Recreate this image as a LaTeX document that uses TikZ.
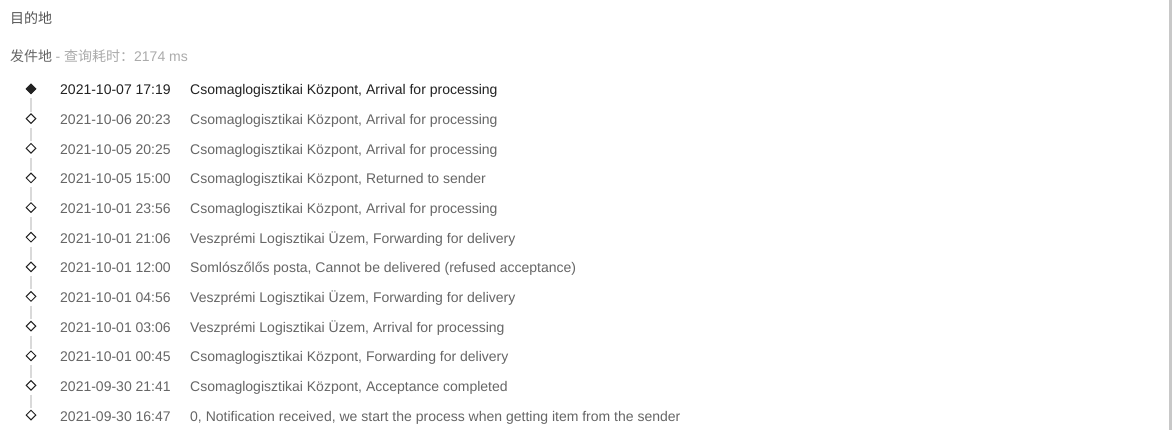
\documentclass[tikz,border=0pt]{standalone}
\usepackage{fontspec}
\setmainfont{Liberation Sans}
\newfontfamily\cjk{Noto Sans CJK SC}
\usetikzlibrary{shapes.geometric,positioning}
\definecolor{headgray}{HTML}{555555}
\definecolor{rowgray}{HTML}{666666}
\definecolor{rowdark}{HTML}{222222}
\definecolor{hintgray}{HTML}{ABABAB}
\definecolor{linkgray}{HTML}{D9D9D9}
\definecolor{bargray}{HTML}{C8C8C8}
\tikzset{
  every node/.style={font=\fontsize{14}{17}\selectfont, inner sep=0pt},
  marker/.style={diamond, draw=rowdark, line width=1pt, fill=white, minimum size=10pt, inner sep=0pt},
  current/.style={marker, fill=rowdark},
  link/.style={draw=linkgray, line width=2.5pt, shorten <=4pt, shorten >=1.5pt},
  stamp/.style={anchor=base west, text=rowgray},
  header/.style={anchor=base west, text=headgray}
}

\begin{document}
\begin{tikzpicture}[x=1pt,y=-1pt]
  \useasboundingbox[fill=white] (0,0) rectangle (1174,430);
  \fill[bargray] (1169,0) rectangle (1172,430);

  \node[header] (dest) at (10,24) {\cjk 目的地};
  \node[header, text=rowgray] (src) at (10,62) {\cjk 发件地};
  \node[anchor=base west, text=hintgray] (took) at ([xshift=3pt]src.base east)
    {- {\cjk 查询耗时：}2174 ms};

  % timeline rows
  \def\rowgap{29.64}
  \foreach \i/\when/\what in {
      1/{2021-10-07 17:19}/{Csomaglogisztikai Központ, Arrival for processing},
      2/{2021-10-06 20:23}/{Csomaglogisztikai Központ, Arrival for processing},
      3/{2021-10-05 20:25}/{Csomaglogisztikai Központ, Arrival for processing},
      4/{2021-10-05 15:00}/{Csomaglogisztikai Központ, Returned to sender},
      5/{2021-10-01 23:56}/{Csomaglogisztikai Központ, Arrival for processing},
      6/{2021-10-01 21:06}/{Veszprémi Logisztikai Üzem, Forwarding for delivery},
      7/{2021-10-01 12:00}/{Somlószőlős posta, Cannot be delivered (refused acceptance)},
      8/{2021-10-01 04:56}/{Veszprémi Logisztikai Üzem, Forwarding for delivery},
      9/{2021-10-01 03:06}/{Veszprémi Logisztikai Üzem, Arrival for processing},
      10/{2021-10-01 00:45}/{Csomaglogisztikai Központ, Forwarding for delivery},
      11/{2021-09-30 21:41}/{Csomaglogisztikai Központ, Acceptance completed},
      12/{2021-09-30 16:47}/{0, Notification received, we start the process when getting item from the sender}} {
    \pgfmathsetmacro{\rowy}{89+(\i-1)*\rowgap}
    \ifnum\i=1
      \node[current] (d\i) at (31,\rowy) {};
      \node[stamp, text=rowdark] (t\i) at (60,\rowy+6) {\when};
      \node[stamp, text=rowdark] (w\i) at (190,\rowy+6) {\what};
    \else
      \node[marker] (d\i) at (31,\rowy) {};
      \node[stamp] (t\i) at (60,\rowy+6) {\when};
      \node[stamp] (w\i) at (190,\rowy+6) {\what};
    \fi
  }

  \foreach \i [remember=\i as \j (initially 1)] in {2,...,12}
    \draw[link] (d\j.south) -- (d\i.north);
\end{tikzpicture}
\end{document}
